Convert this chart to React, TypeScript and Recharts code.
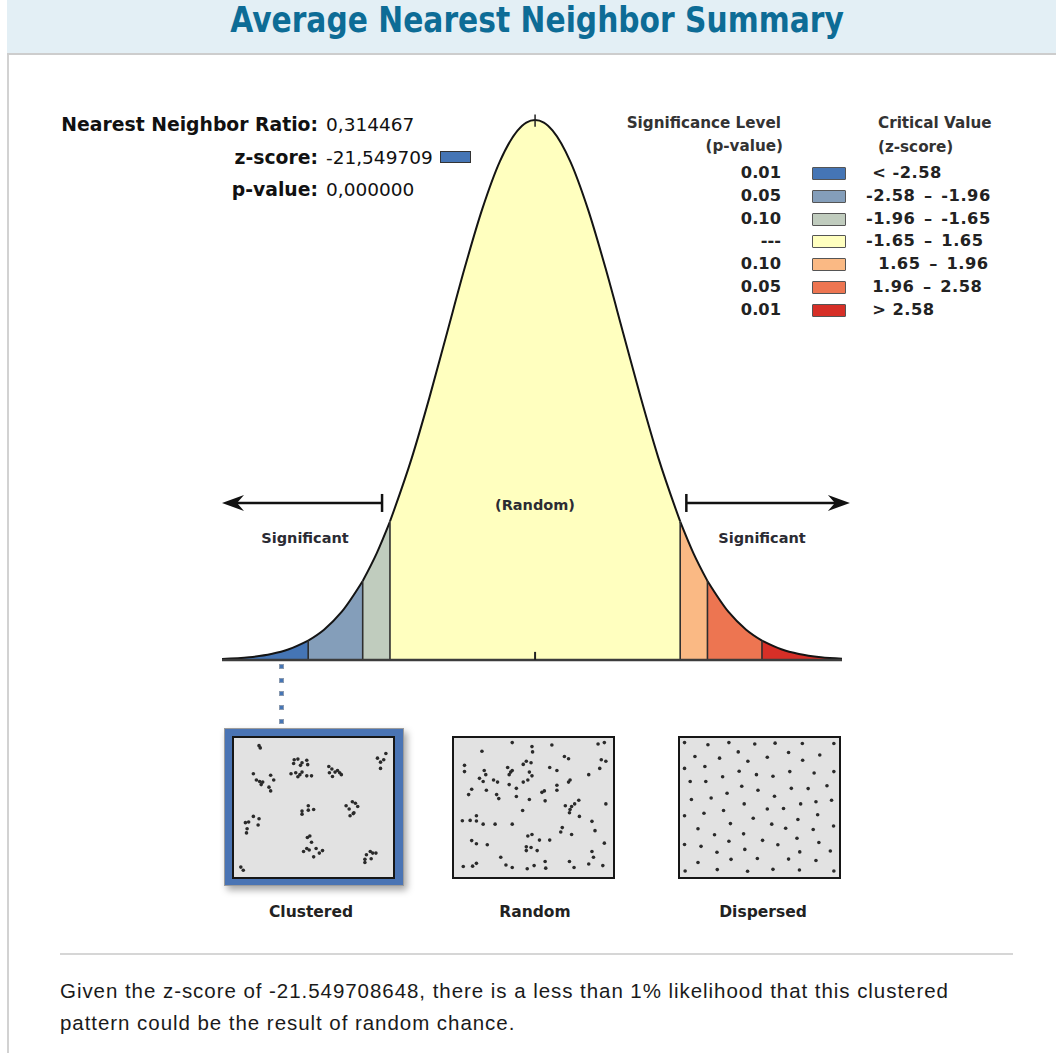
import React from 'react';
import { ComposedChart, Area, XAxis, YAxis, ReferenceLine, ScatterChart, Scatter } from 'recharts';

// curve of the z-score distribution
const zPoints = [
  -3.56, -3.25, -3.0, -2.8, -2.58, -2.4, -2.2, -1.96, -1.8, -1.65, -1.4, -1.2, -1.0, -0.8, -0.6, -0.4, -0.2, -0.1,
  0, 0.1, 0.2, 0.4, 0.6, 0.8, 1.0, 1.2, 1.4, 1.65, 1.8, 1.96, 2.2, 2.4, 2.58, 2.8, 3.0, 3.25, 3.49,
];
const curveHeights = [
  0.0007, 0.002, 0.0044, 0.0079, 0.0143, 0.0224, 0.0355, 0.0584, 0.079, 0.1023, 0.1497, 0.1942, 0.242, 0.2897, 0.3332,
  0.3683, 0.391, 0.397, 0.3989, 0.397, 0.391, 0.3683, 0.3332, 0.2897, 0.242, 0.1942, 0.1497, 0.1023, 0.079, 0.0584,
  0.0355, 0.0224, 0.0143, 0.0079, 0.0044, 0.002, 0.0009,
];
const bandEdges = [-3.56, -2.58, -1.96, -1.65, 1.65, 1.96, 2.58, 3.49];
const bandColors = ['#4575b5', '#849eba', '#c0ccbe', '#ffffbf', '#fab984', '#ed7551', '#d62f27'];
const pValues = ['0.01', '0.05', '0.10', '---', '0.10', '0.05', '0.01'];
const criticalValues = [
  ' < -2.58',
  '-2.58\u2002\u2013\u2002-1.96',
  '-1.96\u2002\u2013\u2002-1.65',
  '-1.65\u2002\u2013\u20021.65',
  '  1.65\u2002\u2013\u20021.96',
  ' 1.96\u2002\u2013\u20022.58',
  ' > 2.58',
];

const stats = [
  { label: 'Nearest Neighbor Ratio:', value: '0,314467' },
  { label: 'z-score:', value: '-21,549709' },
  { label: 'p-value:', value: '0,000000' },
];
const zScoreBin = 0;

const clusteredDots: [number, number][] = [
  [14.4, 3.5], [15.2, 5.2], [37.4, 14.1], [39.8, 13.6], [37.0, 16.9], [42.5, 16.4], [45.6, 14.5], [46.2, 17.8],
  [41.5, 18.3], [35.3, 24.6], [38.4, 23.9], [41.1, 25.3], [42.5, 23.4], [45.6, 26.2], [48.7, 26.2], [39.8, 26.9],
  [60.0, 19.2], [62.0, 21.1], [60.4, 23.9], [64.1, 23.4], [67.1, 23.9], [65.7, 22.2], [68.2, 25.3], [62.4, 26.7],
  [91.8, 12.9], [93.8, 15.9], [95.9, 14.1], [97.3, 9.4], [93.8, 20.6], [10.7, 24.6], [12.7, 29.3], [14.8, 30.4],
  [16.8, 30.9], [22.0, 25.8], [24.0, 29.3], [20.9, 34.7], [22.0, 37.5], [15.8, 32.8], [42.5, 52.7], [42.5, 55.0],
  [46.6, 48.7], [46.6, 52.0], [50.1, 51.5], [71.3, 48.7], [73.3, 51.1], [75.4, 45.7], [77.4, 46.8], [78.9, 49.2],
  [76.4, 53.9], [73.9, 56.2], [76.0, 54.6], [5.5, 61.4], [7.6, 60.9], [10.7, 56.7], [14.4, 58.5], [13.8, 63.2],
  [6.6, 66.0], [6.2, 69.1], [46.0, 72.6], [47.6, 71.4], [48.7, 76.1], [45.6, 80.8], [43.5, 83.1], [47.2, 82.0],
  [51.7, 80.8], [53.8, 84.3], [55.9, 82.4], [50.1, 87.1], [83.6, 89.0], [84.6, 85.5], [87.1, 83.1], [88.7, 84.3],
  [90.8, 84.3], [87.7, 88.5], [83.6, 91.3], [2.5, 94.8], [4.1, 97.2],
];
const randomDots: [number, number][] = [
  [16.3, 7.7], [36.1, 1.2], [49.0, 4.2], [49.4, 8.2], [62.0, 3.0], [92.2, 2.3], [96.3, 1.2], [4.9, 18.3], [4.9, 23.0],
  [17.8, 22.2], [18.8, 25.3], [14.7, 28.1], [17.1, 30.4], [23.9, 29.3], [26.5, 30.9], [33.1, 19.9], [35.1, 23.4],
  [34.1, 25.3], [36.1, 22.2], [43.3, 17.6], [45.3, 15.2], [48.4, 16.4], [47.3, 23.4], [49.0, 26.2], [43.3, 30.9],
  [46.3, 29.3], [60.6, 19.9], [65.3, 22.2], [70.2, 11.7], [72.9, 13.3], [86.1, 25.3], [93.3, 20.6], [94.3, 14.1],
  [97.3, 15.2], [9.6, 36.3], [7.6, 40.3], [19.2, 37.0], [25.9, 40.3], [27.3, 43.3], [34.1, 32.8], [38.8, 35.6],
  [38.8, 41.7], [47.3, 44.0], [55.5, 38.6], [57.1, 37.5], [57.6, 45.0], [65.3, 33.3], [65.3, 37.0], [72.9, 30.9],
  [73.9, 29.3], [70.8, 48.7], [74.9, 49.2], [73.9, 51.5], [76.9, 47.3], [79.6, 44.5], [73.5, 53.9], [80.0, 56.7],
  [88.2, 60.4], [97.3, 47.3], [42.9, 52.2], [3.5, 60.0], [8.6, 59.7], [12.7, 56.2], [12.7, 60.2], [17.1, 62.5],
  [24.9, 62.5], [36.1, 62.5], [68.8, 65.1], [67.8, 68.4], [74.9, 70.3], [90.2, 67.4], [46.3, 71.4], [49.0, 70.3],
  [53.9, 74.5], [60.6, 74.5], [45.3, 79.6], [48.4, 80.1], [52.4, 82.4], [45.3, 82.4], [9.6, 74.9], [12.7, 77.3],
  [19.8, 78.0], [28.6, 87.4], [88.2, 83.1], [89.2, 87.4], [96.3, 76.8], [4.1, 94.4], [10.2, 94.1], [12.7, 92.0],
  [32.0, 93.2], [36.1, 95.1], [45.9, 96.0], [50.4, 93.7], [57.6, 90.6], [58.0, 95.6], [73.5, 90.6], [76.5, 95.1],
  [86.1, 92.5], [95.3, 93.7],
];
const dispersedDots: [number, number][] = [
  [16.3, 2.8], [30.0, 1.2], [46.9, 2.3], [60.2, 1.6], [78.0, 1.9], [98.6, 1.9], [1.0, 1.2], [7.8, 11.7], [23.9, 12.9],
  [36.1, 8.2], [42.4, 15.2], [55.1, 12.2], [69.0, 8.7], [78.2, 14.5], [89.4, 10.5], [14.3, 19.2], [4.7, 30.4],
  [14.9, 30.4], [25.9, 26.9], [36.7, 22.7], [48.0, 25.3], [58.8, 26.5], [69.8, 23.0], [85.7, 24.1], [98.6, 23.0],
  [1.0, 20.6], [38.4, 34.0], [49.0, 37.0], [59.8, 41.5], [70.8, 35.6], [81.8, 35.8], [94.1, 33.7], [5.5, 44.0],
  [18.4, 42.9], [28.8, 39.3], [40.0, 47.3], [55.1, 51.1], [65.7, 50.8], [76.9, 47.3], [86.9, 45.7], [97.1, 44.5],
  [1.0, 56.2], [13.7, 54.3], [26.5, 52.2], [45.9, 58.1], [58.0, 62.5], [67.1, 65.6], [75.1, 59.0], [88.0, 55.5],
  [98.4, 63.9], [9.8, 66.0], [20.6, 70.5], [31.0, 62.1], [39.6, 69.8], [52.0, 74.7], [62.0, 78.0], [74.5, 73.1],
  [85.1, 66.5], [88.8, 76.3], [1.0, 77.8], [11.8, 79.2], [22.2, 83.6], [30.0, 75.4], [40.4, 81.5], [48.6, 88.3],
  [69.0, 88.8], [76.3, 83.4], [86.9, 89.9], [96.3, 82.7], [9.8, 91.3], [31.4, 89.0], [1.4, 97.7], [22.4, 96.7],
  [42.2, 97.9], [58.8, 96.5], [76.1, 97.0], [98.6, 97.7],
];

const curveRows = zPoints.map((z, i) => {
  const row: Record<string, number | null> = { z };
  bandColors.forEach((_, b) => {
    row['b' + b] = z >= bandEdges[b] && z <= bandEdges[b + 1] ? curveHeights[i] : null;
  });
  return row;
});
const heightAt = (z: number) => curveHeights[zPoints.indexOf(z)];

const FONT = '"DejaVu Sans", Verdana, sans-serif';
const ARROW_Y = 0.116;

function ArrowShape(props: any) {
  const { x1, y1, x2, y2 } = props;
  const dir = x2 > x1 ? 1 : -1;
  return (
    <g>
      <line x1={x1} y1={y1 - 9} x2={x1} y2={y1 + 9} stroke="#111" strokeWidth={2.5} />
      <line x1={x1} y1={y1} x2={x2 - dir * 8} y2={y2} stroke="#111" strokeWidth={2.5} />
      <path
        d={`M${x2},${y2} L${x2 - dir * 22},${y2 - 8} L${x2 - dir * 15},${y2} L${x2 - dir * 22},${y2 + 8} Z`}
        fill="#111"
      />
    </g>
  );
}

function Txt({ x, y, align = 'left', size = 15, bold = true, color = '#222', lh = 24, children, style }: any) {
  const w = 500;
  const left = align === 'left' ? x : align === 'right' ? x - w : x - w / 2;
  return (
    <div
      style={{
        position: 'absolute',
        left,
        top: y - lh / 2,
        width: w,
        height: lh,
        lineHeight: lh + 'px',
        fontSize: size,
        fontWeight: bold ? 'bold' : 'normal',
        color,
        textAlign: align,
        whiteSpace: 'pre',
        ...style,
      }}
    >
      {children}
    </div>
  );
}

function Pattern({ dots, left, top }: { dots: [number, number][]; left: number; top: number }) {
  const data = dots.map(([x, y]) => ({ x, y }));
  return (
    <div
      style={{
        position: 'absolute',
        left,
        top,
        width: 163,
        height: 143,
        boxSizing: 'border-box',
        border: '2px solid #161616',
        background: '#e2e2e2',
      }}
    >
      <ScatterChart width={159} height={139} margin={{ top: 3, right: 3, bottom: 3, left: 3 }}>
        <XAxis type="number" dataKey="x" domain={[0, 100]} hide />
        <YAxis type="number" dataKey="y" domain={[0, 100]} reversed hide />
        <Scatter
          data={data}
          isAnimationActive={false}
          shape={(p: any) => <circle cx={p.cx} cy={p.cy} r={1.8} fill="#2a2a2a" />}
        />
      </ScatterChart>
    </div>
  );
}

export default function App() {
  const inner = bandEdges.slice(1, -1);
  return (
    <div
      style={{
        position: 'relative',
        width: 1056,
        height: 1053,
        overflow: 'hidden',
        background: '#fff',
        fontFamily: FONT,
      }}
    >
      <style>{'body{margin:0}'}</style>

      {/* header band */}
      <div
        style={{
          position: 'absolute',
          left: 7,
          top: 0,
          width: 1049,
          height: 53,
          background: '#e3eff5',
          borderBottom: '2px solid #cdcdcd',
        }}
      />
      <div style={{ position: 'absolute', left: 7, top: 55, width: 2, height: 1000, background: '#d2d2d2' }} />
      <div
        style={{
          position: 'absolute',
          left: 37,
          top: 1,
          width: 1000,
          height: 38,
          lineHeight: '38px',
          textAlign: 'center',
          fontSize: 35,
          fontWeight: 'bold',
          color: '#0d6c96',
          transform: 'scaleX(0.85)',
        }}
      >
        Average Nearest Neighbor Summary
      </div>

      {/* stats */}
      {stats.map((s, i) => (
        <React.Fragment key={s.label}>
          <Txt x={318} y={125 + i * 32.5} align="right" size={18.8} color="#111">
            {s.label}
          </Txt>
          <Txt x={326} y={125 + i * 32.5} size={18.5} bold={false} color="#111">
            {s.value}
          </Txt>
        </React.Fragment>
      ))}
      <div
        style={{
          position: 'absolute',
          left: 440,
          top: 151,
          width: 31,
          height: 12,
          boxSizing: 'border-box',
          background: bandColors[zScoreBin],
          border: '1.5px solid #333',
        }}
      />

      {/* legend */}
      <Txt x={781} y={123} align="right" size={15.2} color="#333">
        Significance Level
      </Txt>
      <Txt x={783} y={146} align="right" size={15.2} color="#333">
        (p-value)
      </Txt>
      <Txt x={878} y={123} size={15.2} color="#333">
        Critical Value
      </Txt>
      <Txt x={878} y={147} size={15.2} color="#333">
        (z-score)
      </Txt>
      {pValues.map((p, i) => {
        const y = 173 + i * 22.8;
        return (
          <React.Fragment key={i}>
            <Txt x={781} y={y} align="right" size={16.3}>
              {p}
            </Txt>
            <div
              style={{
                position: 'absolute',
                left: 812,
                top: y - 6,
                width: 34,
                height: 13,
                boxSizing: 'border-box',
                background: bandColors[i],
                border: '1.5px solid #555',
                borderRadius: 1,
              }}
            />
            <Txt x={866} y={y} size={16.3} style={{ letterSpacing: 0.5 }}>
              {criticalValues[i]}
            </Txt>
          </React.Fragment>
        );
      })}

      {/* distribution curve */}
      <div style={{ position: 'absolute', left: 182, top: 80 }}>
        <ComposedChart width={700} height={590} data={curveRows} margin={{ top: 20, right: 40, bottom: 10, left: 40 }}>
          <XAxis type="number" dataKey="z" domain={[-3.56, 3.49]} hide allowDataOverflow />
          <YAxis type="number" domain={[0, 0.41367]} hide allowDataOverflow />
          {bandColors.map((c, b) => (
            <Area
              key={b}
              type="monotone"
              dataKey={'b' + b}
              fill={c}
              fillOpacity={1}
              stroke="#141414"
              strokeWidth={2}
              connectNulls={false}
              dot={false}
              activeDot={false}
              isAnimationActive={false}
            />
          ))}
          {inner.map((e) => (
            <ReferenceLine
              key={e}
              segment={[
                { x: e, y: 0 },
                { x: e, y: heightAt(e) },
              ]}
              stroke="#2e2e2e"
              strokeWidth={1.6}
            />
          ))}
          <ReferenceLine
            segment={[
              { x: bandEdges[0], y: 0 },
              { x: bandEdges[bandEdges.length - 1], y: 0 },
            ]}
            stroke="#3c3c3c"
            strokeWidth={2.5}
          />
          <ReferenceLine segment={[{ x: 0, y: 0 }, { x: 0, y: 0.006 }]} stroke="#222" strokeWidth={2} />
          <ReferenceLine segment={[{ x: 0, y: 0.394 }, { x: 0, y: 0.403 }]} stroke="#222" strokeWidth={1.5} />
          <ReferenceLine
            segment={[
              { x: -1.74, y: ARROW_Y },
              { x: -3.56, y: ARROW_Y },
            ]}
            ifOverflow="visible"
            shape={ArrowShape}
          />
          <ReferenceLine
            segment={[
              { x: 1.72, y: ARROW_Y },
              { x: 3.58, y: ARROW_Y },
            ]}
            ifOverflow="visible"
            shape={ArrowShape}
          />
        </ComposedChart>
      </div>
      <Txt x={535} y={505} align="center" size={14.5} color="#2b2b33">
        (Random)
      </Txt>
      <Txt x={305} y={538} align="center" size={14.5} color="#2b2b33">
        Significant
      </Txt>
      <Txt x={762} y={538} align="center" size={14.5} color="#2b2b33">
        Significant
      </Txt>

      {/* z-score pointer */}
      {[0, 1, 2, 3, 4].map((k) => (
        <div
          key={k}
          style={{
            position: 'absolute',
            left: 279,
            top: 664 + k * 13.7,
            width: 5,
            height: 5,
            boxSizing: 'border-box',
            background: bandColors[zScoreBin],
            border: '1px solid #8a9ab0',
          }}
        />
      ))}

      {/* patterns */}
      <div
        style={{
          position: 'absolute',
          left: 224,
          top: 728,
          width: 180,
          height: 158,
          boxSizing: 'border-box',
          background: '#4a74b4',
          border: '1px solid #9c9c9c',
          boxShadow: '3px 4px 7px rgba(0,0,0,0.35)',
        }}
      />
      <Pattern dots={clusteredDots} left={232} top={736} />
      <Pattern dots={randomDots} left={452} top={736} />
      <Pattern dots={dispersedDots} left={678} top={736} />
      <Txt x={311} y={912} align="center" size={15.5} color="#222">
        Clustered
      </Txt>
      <Txt x={535} y={912} align="center" size={15.5} color="#222">
        Random
      </Txt>
      <Txt x={763} y={912} align="center" size={15.5} color="#222">
        Dispersed
      </Txt>

      {/* conclusion */}
      <div style={{ position: 'absolute', left: 60, top: 953, width: 953, height: 2, background: '#d6d6d6' }} />
      <div
        style={{
          position: 'absolute',
          left: 60,
          top: 975,
          width: 980,
          lineHeight: '32px',
          fontSize: 20.5,
          letterSpacing: 0.95,
          color: '#1a1a1a',
          whiteSpace: 'nowrap',
          fontFamily: '"Liberation Sans", Arial, sans-serif',
        }}
      >
        Given the z-score of -21.549708648, there is a less than 1% likelihood that this clustered
        <br />
        pattern could be the result of random chance.
      </div>
    </div>
  );
}
